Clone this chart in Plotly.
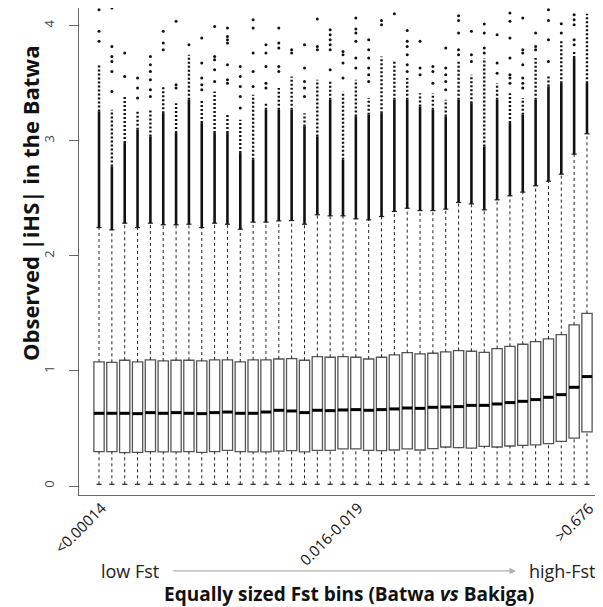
import plotly.graph_objects as go

bins = list(range(1, 40))

q1 = [0.299, 0.299, 0.290, 0.293, 0.299, 0.296, 0.296, 0.299, 0.293, 0.299,
      0.310, 0.299, 0.296, 0.296, 0.304, 0.307, 0.296, 0.310, 0.310,
      0.322, 0.322, 0.310, 0.307, 0.313, 0.322, 0.313, 0.325, 0.339, 0.333,
      0.330, 0.345, 0.339, 0.348, 0.354, 0.357, 0.368, 0.388, 0.417, 0.470]

median = [0.632, 0.632, 0.632, 0.629, 0.638, 0.632, 0.638, 0.632, 0.629, 0.638,
          0.643, 0.632, 0.632, 0.643, 0.658, 0.652, 0.638, 0.658, 0.655,
          0.661, 0.664, 0.658, 0.664, 0.670, 0.678, 0.675, 0.684, 0.687, 0.690,
          0.701, 0.701, 0.713, 0.725, 0.736, 0.751, 0.771, 0.794, 0.858, 0.951]

q3 = [1.078, 1.075, 1.093, 1.078, 1.096, 1.087, 1.093, 1.093, 1.087, 1.096,
      1.096, 1.078, 1.096, 1.096, 1.104, 1.107, 1.093, 1.125, 1.119,
      1.125, 1.119, 1.104, 1.119, 1.139, 1.159, 1.148, 1.154, 1.165, 1.177,
      1.171, 1.162, 1.194, 1.214, 1.232, 1.255, 1.278, 1.316, 1.400, 1.501]

upper_whisker = [2.246, 2.226, 2.284, 2.246, 2.284, 2.270, 2.270, 2.275, 2.246, 2.284,
                 2.275, 2.232, 2.293, 2.293, 2.304, 2.307, 2.275, 2.357, 2.348,
                 2.348, 2.322, 2.313, 2.342, 2.386, 2.414, 2.394, 2.394, 2.406, 2.464,
                 2.452, 2.400, 2.487, 2.522, 2.554, 2.609, 2.649, 2.710, 2.884, 3.061]

lower_whisker = [0.015, 0.015, 0.015, 0.015, 0.015, 0.015, 0.015, 0.015, 0.015, 0.015,
                 0.015, 0.015, 0.015, 0.015, 0.015, 0.015, 0.015, 0.015, 0.015,
                 0.015, 0.015, 0.015, 0.015, 0.015, 0.015, 0.015, 0.015, 0.015, 0.015,
                 0.015, 0.015, 0.015, 0.015, 0.015, 0.015, 0.015, 0.015, 0.015, 0.015]

# top of the continuous run of outliers above each upper whisker
outlier_solid_top = [3.255, 2.777, 2.980, 3.096, 3.038, 3.240, 3.067, 3.356, 3.154, 3.067,
                     3.067, 2.893, 2.835, 3.269, 3.269, 3.269, 3.125, 3.038, 3.356,
                     2.835, 3.212, 3.226, 3.240, 3.356, 3.356, 3.298, 3.269, 3.212, 3.356,
                     3.327, 2.951, 3.356, 3.154, 3.226, 3.356, 3.472, 3.501, 3.719, 3.501]

# top of the closely spaced (dotted) run of outliers
outlier_dotted_top = [3.661, 3.269, 3.385, 3.269, 3.269, 3.472, 3.327, 3.748, 3.356, 3.429,
                      3.240, 3.183, 3.400, 3.327, 3.458, 3.559, 3.240, 3.530, 3.530,
                      3.429, 3.530, 3.371, 3.733, 3.690, 3.545, 3.414, 3.414, 3.356, 3.690,
                      3.574, 3.719, 3.501, 3.414, 3.371, 3.719, 3.574, 3.864, 3.777, 4.104]

# isolated extreme outliers per bin
outlier_points = [
    [3.864, 3.951, 4.139],
    [3.429, 3.603, 3.690, 3.733, 3.820, 4.154],
    [3.559, 3.762],
    [3.371, 3.458, 3.545],
    [3.385, 3.443, 3.530, 3.603, 3.661, 3.733],
    [3.791, 3.849, 3.951],
    [3.458, 3.487, 4.038],
    [3.835],
    [3.443, 3.487, 3.545, 3.675, 3.893],
    [3.516, 3.617, 3.704, 3.733, 3.994],
    [3.501, 3.530, 3.661, 3.849, 3.878, 3.907, 3.980],
    [3.284, 3.385, 3.472, 3.559, 3.646],
    [3.472, 3.603, 3.762, 3.980, 4.052],
    [3.458, 3.501, 3.646, 3.762, 3.835],
    [3.603, 3.646, 3.806, 3.849, 3.980],
    [3.762, 3.791],
    [3.385, 3.458, 3.516, 3.632, 3.835],
    [3.791, 3.820, 4.058],
    [3.617, 3.791, 3.835, 3.878, 3.922, 3.965],
    [3.545, 3.675, 3.748, 3.777],
    [3.632, 3.719, 3.864, 3.936, 3.971, 4.067],
    [3.516, 3.574, 3.632, 3.719, 3.791, 3.878],
    [4.009, 4.046],
    [4.104],
    [3.603, 3.661, 3.748, 3.820, 3.864, 3.959],
    [3.574, 3.632, 3.864],
    [3.501, 3.603, 3.646],
    [3.443, 3.516, 3.574, 3.632, 3.806],
    [3.748, 3.791, 3.936, 4.046, 4.087],
    [3.690, 3.748, 3.951],
    [3.762, 3.806, 3.936, 4.014],
    [3.588, 3.675, 3.922],
    [3.501, 3.545, 3.574, 3.719, 3.893, 4.038, 4.110],
    [3.458, 3.501, 3.545, 3.661, 3.762, 3.791, 4.067],
    [3.791, 3.820, 3.936],
    [3.690, 3.878, 4.046, 4.139],
    [3.936, 4.017],
    [3.835, 3.878, 4.009, 4.052, 4.096],
    [],
]

xtick_positions = [1, 21, 39]
xtick_labels = ["&lt;0.00014", "0.016-0.019", "&gt;0.676"]
ytick_values = [0, 1, 2, 3, 4]

BOX_W = 0.8
STAPLE_W = 0.4

fig = go.Figure()


def segs(xpairs, ypairs):
    xs, ys = [], []
    for (xa, xb), (ya, yb) in zip(xpairs, ypairs):
        xs += [xa, xb, None]
        ys += [ya, yb, None]
    return xs, ys


# whiskers (dashed)
xs, ys = segs([(b, b) for b in bins], [(a, c) for a, c in zip(q3, upper_whisker)])
xs2, ys2 = segs([(b, b) for b in bins], [(a, c) for a, c in zip(lower_whisker, q1)])
fig.add_trace(go.Scatter(x=xs + xs2, y=ys + ys2, mode="lines",
                         line=dict(color="#222222", width=1, dash="3px,3px"),
                         hoverinfo="skip", showlegend=False))

# staples
xs, ys = segs([(b - STAPLE_W / 2, b + STAPLE_W / 2) for b in bins],
              [(w, w) for w in upper_whisker])
xs2, ys2 = segs([(b - STAPLE_W / 2, b + STAPLE_W / 2) for b in bins],
                [(w, w) for w in lower_whisker])
fig.add_trace(go.Scatter(x=xs + xs2, y=ys + ys2, mode="lines",
                         line=dict(color="#222222", width=1.2),
                         hoverinfo="skip", showlegend=False))

# dense outlier columns
xs, ys = segs([(b, b) for b in bins], list(zip(upper_whisker, outlier_solid_top)))
fig.add_trace(go.Scatter(x=xs, y=ys, mode="lines",
                         line=dict(color="#111111", width=2.6),
                         hoverinfo="skip", showlegend=False))
xs, ys = segs([(b, b) for b in bins], list(zip(outlier_solid_top, outlier_dotted_top)))
fig.add_trace(go.Scatter(x=xs, y=ys, mode="lines",
                         line=dict(color="#111111", width=2.4, dash="2px,2px"),
                         hoverinfo="skip", showlegend=False))

# isolated outliers
px, py = [], []
for b, pts in zip(bins, outlier_points):
    px += [b] * len(pts)
    py += pts
fig.add_trace(go.Scatter(x=px, y=py, mode="markers",
                         marker=dict(color="#111111", size=3, line=dict(width=0)),
                         hoverinfo="skip", showlegend=False))

# boxes
fig.add_trace(go.Box(x=bins, q1=q1, median=median, q3=q3,
                     lowerfence=q1, upperfence=q3, width=BOX_W,
                     fillcolor="white", line=dict(color="#555555", width=1.3),
                     whiskerwidth=0, boxpoints=False, hoverinfo="skip",
                     showlegend=False))

# thick medians
xs, ys = segs([(b - BOX_W / 2, b + BOX_W / 2) for b in bins], [(m, m) for m in median])
fig.add_trace(go.Scatter(x=xs, y=ys, mode="lines",
                         line=dict(color="#000000", width=3),
                         hoverinfo="skip", showlegend=False))

FONT = "Open Sans"
annotations = []
for pos, lab in zip(xtick_positions, xtick_labels):
    annotations.append(dict(x=pos, y=0, xref="x", yref="paper", text=lab,
                            showarrow=False, textangle=-45, xanchor="right",
                            yanchor="top", xshift=13, yshift=0,
                            font=dict(family=FONT, size=15, color="#111")))

annotations += [
    dict(x=-0.0946, y=0.5996, xref="paper", yref="paper",
         text="<b>Observed |iHS| in the Batwa</b>", showarrow=False,
         xanchor="center", yanchor="middle",
         textangle=-90, font=dict(family=FONT, size=22, color="#111")),
    dict(x=0.522, y=-0.2033, xref="paper", yref="paper",
         text="<b>Equally sized Fst bins (Batwa <i>vs</i> Bakiga)</b>",
         showarrow=False, xanchor="center", yanchor="middle",
         font=dict(family=FONT, size=19, color="#111")),
    dict(x=0.039, y=-0.156, xref="paper", yref="paper", text="low Fst",
         showarrow=False, xanchor="left", yanchor="middle",
         font=dict(family=FONT, size=18, color="#222")),
    dict(x=1.0, y=-0.156, xref="paper", yref="paper", text="high-Fst",
         showarrow=False, xanchor="right", yanchor="middle",
         font=dict(family=FONT, size=18, color="#222")),
    dict(x=0.8436, y=-0.156, ax=0.179, ay=-0.156, xref="x domain", yref="y domain",
         axref="x domain", ayref="y domain", text="", showarrow=True,
         arrowhead=2, arrowsize=1, arrowwidth=1.3, arrowcolor="#b0b0b0"),
]

fig.update_layout(
    width=595, height=599,
    margin=dict(l=71, r=6, t=0, b=112, autoexpand=False),
    paper_bgcolor="white", plot_bgcolor="white",
    showlegend=False,
    annotations=annotations,
    xaxis=dict(range=[-0.56, 39.78], showticklabels=False, ticks="",
               showgrid=False, zeroline=False, showline=True, mirror=True,
               linecolor="#666666", linewidth=1, automargin=False),
    yaxis=dict(range=[-0.078, 4.154], tickvals=ytick_values, ticks="outside",
               ticklen=9, tickcolor="#666666", tickangle=-90,
               tickfont=dict(family=FONT, size=13, color="#444"),
               showgrid=False, zeroline=False, showline=True, mirror=True,
               linecolor="#666666", linewidth=1, ticklabelstandoff=10,
               automargin=False),
)

fig.write_html("out.html")
